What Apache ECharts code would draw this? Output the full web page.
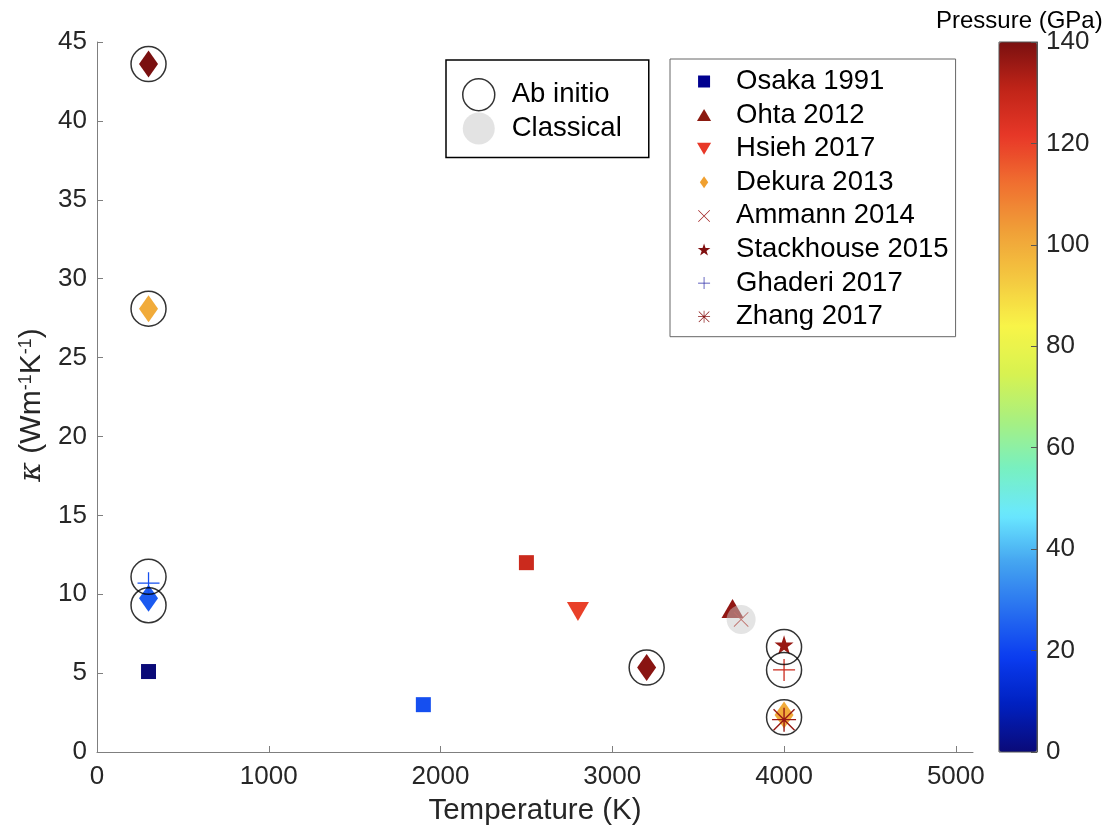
<!DOCTYPE html>
<html>
<head>
<meta charset="utf-8">
<script src="https://cdn.jsdelivr.net/npm/echarts@6/dist/echarts.min.js"></script>
<style>
html,body{margin:0;padding:0;background:#fff;}
#chart{width:1108px;height:831px;}
</style>
</head>
<body>
<div id="chart"></div>
<script>
// ---------- data ----------
const seriesNames = ['Osaka 1991', 'Ohta 2012', 'Hsieh 2017', 'Dekura 2013', 'Ammann 2014', 'Stackhouse 2015', 'Ghaderi 2017', 'Zhang 2017'];

const osakaT = [300, 1900, 2500];
const osakaK = [5.1, 3.0, 12.0];
const osakaP = [0, 22, 128];

const ohtaT = [3700];
const ohtaK = [9.1];
const ohtaP = [137];

const hsiehT = [2800];
const hsiehK = [8.9];
const hsiehP = [120];

const dekuraT = [300, 300, 300, 3200, 4000];
const dekuraK = [43.6, 28.1, 9.75, 5.35, 2.35];
const dekuraP = [140, 100, 24, 138, 100];

const ammannT = [3750];
const ammannK = [8.4];
const ammannP = [132];

const stackhouseT = [4000];
const stackhouseK = [6.8];
const stackhouseP = [136];

const ghaderiT = [300, 4000];
const ghaderiK = [10.7, 5.2];
const ghaderiP = [22, 128];

const zhangT = [4000];
const zhangK = [2.05];
const zhangP = [136];

const abInitioT = [300, 300, 300, 300, 3200, 4000, 4000, 4000];
const abInitioK = [43.6, 28.1, 11.1, 9.3, 5.35, 6.65, 5.2, 2.2];

const classicalT = [3750];
const classicalK = [8.4];

const xTicks = [0, 1000, 2000, 3000, 4000, 5000];
const yTicks = [0, 5, 10, 15, 20, 25, 30, 35, 40, 45];
const pressureTicks = [0, 20, 40, 60, 80, 100, 120, 140];

// ---------- styling ----------
const FONT = 'Liberation Sans, Arial, Helvetica, sans-serif';
const TXT = '#262626';
const AX = '#7f7f7f';

const SYM = {
  square: 'path://M0,0 H10 V10 H0 Z',
  triUp: 'path://M10,0 L20,17 L0,17 Z',
  triDown: 'path://M0,0 L20,0 L10,17 Z',
  diamond: 'path://M7,0 L14,10 L7,20 L0,10 Z',
  cross: 'path://M0,1 L1,0 L24,23 L23,24 Z M23,0 L24,1 L1,24 L0,23 Z',
  star: 'path://M50,0 L61.23,34.55 L97.55,34.55 L68.17,55.9 L79.39,90.45 L50,69.1 L20.61,90.45 L31.83,55.9 L2.45,34.55 L38.77,34.55 Z',
  plus: 'path://M11.3,0 H12.7 V11.3 H24 V12.7 H12.7 V24 H11.3 V12.7 H0 V11.3 H11.3 Z',
  asterisk: 'path://M11.3,0 H12.7 V11.3 H24 V12.7 H12.7 V24 H11.3 V12.7 H0 V11.3 H11.3 Z M1,2 L2,1 L23,22 L22,23 Z M22,1 L23,2 L2,23 L1,22 Z'
};

const legendColors = ['#00008f', '#8b1a10', '#e83828', '#f0a030', '#a02020', '#801010', '#2a2aa8', '#8b1a1a'];

function pts(T, K, P) {
  return T.map((t, i) => P ? [t, K[i], P[i]] : [t, K[i]]);
}

const defs = [
  { T: osakaT, K: osakaK, P: osakaP, sym: SYM.square, size: 15 },
  { T: ohtaT, K: ohtaK, P: ohtaP, sym: SYM.triUp, size: [22, 19] },
  { T: hsiehT, K: hsiehK, P: hsiehP, sym: SYM.triDown, size: [22, 19] },
  { T: dekuraT, K: dekuraK, P: dekuraP, sym: SYM.diamond, size: [19, 27] },
  { T: ammannT, K: ammannK, P: ammannP, sym: SYM.cross, size: 15 },
  { T: stackhouseT, K: stackhouseK, P: stackhouseP, sym: SYM.star, size: 19 },
  { T: ghaderiT, K: ghaderiK, P: ghaderiP, sym: SYM.plus, size: 22 },
  { T: zhangT, K: zhangK, P: zhangP, sym: SYM.asterisk, size: 24 }
];

const series = defs.map((d, i) => ({
  name: seriesNames[i],
  type: 'scatter',
  xAxisIndex: 0, yAxisIndex: 0,
  symbol: d.sym,
  symbolSize: d.size,
  symbolKeepAspect: false,
  itemStyle: { color: legendColors[i], opacity: 1 },
  data: pts(d.T, d.K, d.P),
  z: 2
}));

series.push({
  name: 'Ab initio',
  type: 'scatter',
  symbol: 'circle',
  symbolSize: 35,
  itemStyle: { color: 'rgba(0,0,0,0)', borderColor: '#000', borderWidth: 1.5 },
  data: pts(abInitioT, abInitioK),
  z: 3
});
series.push({
  name: 'Classical',
  type: 'scatter',
  symbol: 'circle',
  symbolSize: 29,
  itemStyle: { color: 'rgba(200,200,200,0.62)' },
  data: pts(classicalT, classicalK),
  z: 4
});

const jet = ['#0a0a78', '#0020c0', '#0a3cf0', '#2870f0', '#44a4f0', '#6ae8ff', '#78f0c0', '#a8f080', '#d8f250', '#f8f448', '#f4c840', '#f0a038', '#f07030', '#e83828', '#c02418', '#7a1010'];

const option = {
  animation: false,
  backgroundColor: '#fff',
  textStyle: { fontFamily: FONT, color: TXT },
  title: {
    text: 'Pressure (GPa)',
    left: 931, top: 4,
    textStyle: { fontFamily: FONT, fontSize: 24, fontWeight: 'normal', color: '#000' }
  },
  grid: [
    { left: 97, top: 42, width: 876, height: 711 },
    { left: 999, top: 42, width: 38, height: 710, show: true, z: 10, backgroundColor: 'rgba(0,0,0,0)', borderColor: '#555', borderWidth: 1 }
  ],
  xAxis: [
    {
      type: 'value', gridIndex: 0, min: 0, max: 5100,
      name: 'Temperature (K)', nameLocation: 'middle', nameGap: 44,
      nameTextStyle: { fontSize: 29.5, color: TXT, fontFamily: FONT },
      axisLine: { lineStyle: { color: AX, width: 1 } },
      axisTick: { inside: true, length: 6, lineStyle: { color: AX }, customValues: xTicks },
      axisLabel: { fontSize: 26, color: TXT, margin: 12, customValues: xTicks, fontFamily: FONT, formatter: v => String(v) },
      splitLine: { show: false }
    },
    { type: 'value', gridIndex: 1, min: 0, max: 1, show: false }
  ],
  yAxis: [
    {
      type: 'value', gridIndex: 0, min: 0, max: 45,
      name: '{it|κ} (Wm{sup|-1}K{sup|-1})', nameLocation: 'middle', nameGap: 41,
      nameTextStyle: {
        fontSize: 30, color: TXT, fontFamily: FONT,
        padding: [0, 16, 0, 0],
        rich: {
          it: { fontSize: 30, fontStyle: 'italic', fontFamily: 'DejaVu Serif, serif', color: TXT },
          sup: { fontSize: 18, verticalAlign: 'top', color: TXT, fontFamily: FONT }
        }
      },
      axisLine: { show: true, lineStyle: { color: AX, width: 1 } },
      axisTick: { show: true, inside: true, length: 6, lineStyle: { color: AX }, customValues: yTicks },
      axisLabel: { fontSize: 26, color: TXT, margin: 10, customValues: yTicks, fontFamily: FONT },
      splitLine: { show: false }
    },
    {
      type: 'value', gridIndex: 1, min: 0, max: 140, position: 'right', z: 11,
      axisLine: { show: true, onZero: false, lineStyle: { color: '#555', width: 1 } },
      axisTick: { show: true, inside: true, length: 6, lineStyle: { color: '#555', width: 1 }, customValues: pressureTicks },
      axisLabel: { fontSize: 26, color: TXT, margin: 9, customValues: pressureTicks, fontFamily: FONT },
      splitLine: { show: false }
    }
  ],
  visualMap: {
    type: 'continuous',
    z: 1,
    min: 0, max: 140,
    dimension: 2,
    seriesIndex: [0, 1, 2, 3, 4, 5, 6, 7],
    orient: 'vertical',
    left: 999, top: 42,
    padding: 0,
    itemWidth: 38, itemHeight: 710,
    calculable: false,
    hoverLink: false,
    text: null,
    inRange: { color: jet }
  },
  legend: [
    {
      orient: 'vertical',
      left: 446, top: 60,
      padding: [18, 27, 13, 16],
      itemWidth: 56, itemHeight: 32, itemGap: 1,
      borderColor: '#000', borderWidth: 1.5,
      backgroundColor: '#fff',
      selectedMode: false,
      textStyle: { fontSize: 27.5, color: '#000', fontFamily: FONT, lineHeight: 27 },
      data: [
        { name: 'Ab initio', icon: 'circle', itemStyle: { color: 'rgba(0,0,0,0)', borderColor: '#000', borderWidth: 1.5 } },
        { name: 'Classical', icon: 'circle', itemStyle: { color: '#dcdcdc', borderWidth: 0 } }
      ]
    },
    {
      orient: 'vertical',
      left: 670, top: 59,
      padding: [8.5, 7, 6, 27],
      itemWidth: 54, itemHeight: 12, itemGap: 5.6,
      borderColor: '#666', borderWidth: 1,
      backgroundColor: '#fff',
      selectedMode: false,
      textStyle: { fontSize: 27.5, color: '#000', fontFamily: FONT, lineHeight: 27 },
      data: seriesNames.map((n, i) => ({
        name: n,
        icon: defs[i].sym,
        itemStyle: { color: legendColors[i], borderWidth: 0, opacity: 1 }
      }))
    }
  ],
  series: series
};

const chart = echarts.init(document.getElementById('chart'), null, { renderer: 'canvas' });
chart.setOption(option);
</script>
</body>
</html>
